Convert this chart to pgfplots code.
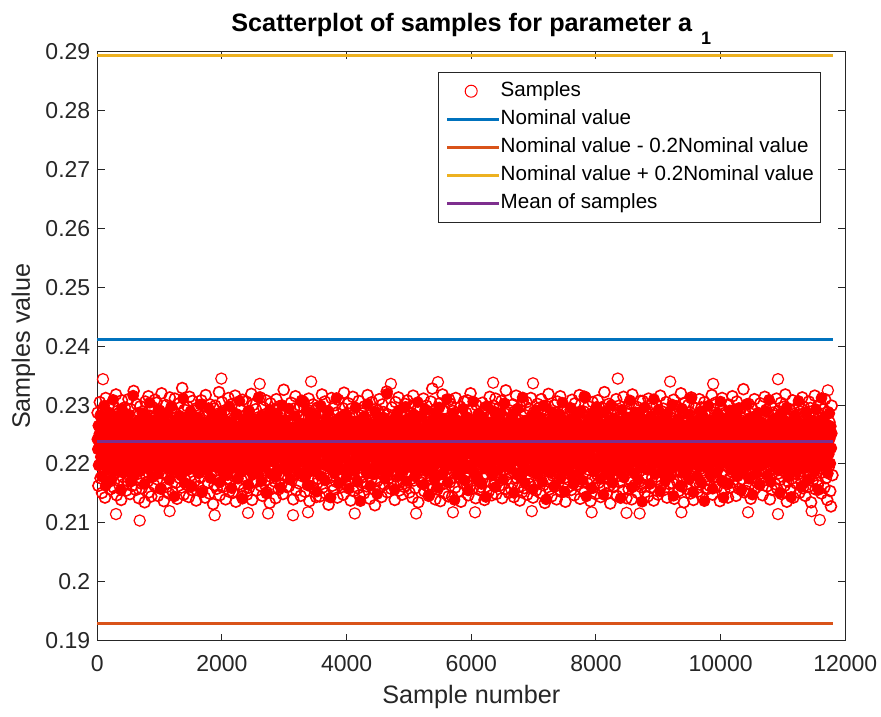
\documentclass[border=0pt]{standalone}
\usepackage{fontspec}
\setmainfont{Liberation Sans}
\usepackage{pgfplots}
\usepackage{pgfplotstable}
\pgfplotsset{compat=1.18}
\definecolor{mblue}{rgb}{0,0.447,0.741}
\definecolor{morange}{rgb}{0.85,0.325,0.098}
\definecolor{myellow}{rgb}{0.929,0.694,0.125}
\definecolor{mpurple}{rgb}{0.494,0.184,0.556}
\definecolor{axgray}{rgb}{0.15,0.15,0.15}
\pgfplotsset{mleg/.style={legend image code/.code={\draw[##1] (0pt,0pt) -- (26pt,0pt);}}}

\pgfplotstableread{
y
0.2242
0.2225
0.2265
0.2198
0.2251
0.2234
0.2283
0.2212
0.2246
0.2179
0.2270
0.2219
0.2258
0.2230
0.2299
0.2206
0.2239
0.2163
0.2276
0.2222
0.2229
0.2257
0.2191
0.2248
0.2215
0.2287
0.2236
0.2203
0.2268
0.2174
0.2241
0.2226
0.2309
0.2211
0.2253
0.2189
0.2272
0.2233
0.2253
0.2260
0.2247
0.2208
0.2236
0.2279
0.2193
0.2262
0.2221
0.2250
0.2156
0.2238
0.2294
0.2214
0.2244
0.2185
0.2267
0.2231
0.2201
0.2256
0.2224
0.2277
0.2218
0.2263
0.2232
0.2196
0.2284
0.2240
0.2209
0.2252
0.2170
0.2228
0.2269
0.2245
0.2199
0.2316
0.2235
0.2181
0.2259
0.2213
0.2248
0.2223
0.2254
0.2227
0.2195
0.2273
0.2237
0.2210
0.2264
0.2243
0.2188
0.2206
0.2258
0.2220
0.2286
0.2233
0.2204
0.2249
0.2166
0.2271
0.2228
0.2241
0.2235
0.2280
0.2216
0.2249
0.2192
0.2261
0.2226
0.2304
0.2243
0.2207
0.2257
0.2177
0.2238
0.2268
0.2221
0.2250
0.2199
0.2275
0.2231
0.2212
0.2266
0.2224
0.2247
0.2183
0.2256
0.2234
0.2208
0.2291
0.2240
0.2158
0.2219
0.2262
0.2229
0.2252
0.2196
0.2278
0.2237
0.2214
0.2245
0.2270
0.2223
0.2255
0.2201
0.2240
0.2287
0.2217
0.2246
0.2173
0.2264
0.2232
0.2210
0.2298
0.2239
0.2190
0.2260
0.2227
0.2251
0.2145
0.2236
0.2274
0.2244
0.2206
0.2269
0.2230
0.2195
0.2258
0.2222
0.2282
0.2241
0.2213
0.2250
0.2180
0.2235
0.2267
0.2203
0.2311
0.2228
0.2254
0.2168
0.2246
0.2259
0.2219
0.2237
0.2276
0.2200
0.2248
0.2226
0.2191
0.2265
0.2233
0.2289
0.2211
0.2243
0.2162
0.2255
0.2229
0.2272
0.2205
0.2240
0.2218
0.2231
0.2262
0.2197
0.2250
0.2214
0.2279
0.2238
0.2184
0.2257
0.2224
0.2301
0.2207
0.2245
0.2233
0.2152
0.2268
0.2220
0.2253
0.2194
0.2241
0.2249
0.2212
0.2271
0.2236
0.2189
0.2260
0.2227
0.2295
0.2242
0.2203
0.2255
0.2176
0.2234
0.2266
0.2219
0.2247
0.2198
0.2283
0.2230
0.2213
0.2263
0.2225
0.2241
0.2239
0.2194
0.2252
0.2216
0.2277
0.2244
0.2208
0.2169
0.2258
0.2232
0.2287
0.2221
0.2248
0.2186
0.2269
0.2237
0.2211
0.2228
0.2256
0.2202
0.2273
0.2240
0.2215
0.2181
0.2264
0.2235
0.2298
0.2223
0.2250
0.2193
0.2243
0.2159
0.2270
0.2231
0.2206
0.2257
0.2246
0.2252
0.2217
0.2240
0.2285
0.2199
0.2261
0.2229
0.2175
0.2254
0.2236
0.2307
0.2210
0.2248
0.2188
0.2266
0.2224
0.2141
0.2259
0.2234
0.2272
0.2238
0.2267
0.2209
0.2245
0.2192
0.2278
0.2222
0.2253
0.2165
0.2233
0.2290
0.2215
0.2241
0.2261
0.2200
0.2230
0.2256
0.2182
0.2249
0.2226
0.2219
0.2244
0.2274
0.2204
0.2258
0.2235
0.2186
0.2262
0.2227
0.2313
0.2242
0.2197
0.2251
0.2213
0.2268
0.2171
0.2239
0.2282
0.2223
0.2247
0.2257
0.2230
0.2195
0.2265
0.2241
0.2150
0.2254
0.2218
0.2279
0.2236
0.2207
0.2249
0.2292
0.2225
0.2183
0.2260
0.2233
0.2212
0.2271
0.2244
0.2234
0.2203
0.2263
0.2246
0.2178
0.2255
0.2228
0.2286
0.2240
0.2214
0.2252
0.2191
0.2270
0.2237
0.2160
0.2248
0.2221
0.2300
0.2231
0.2258
0.2266
0.2220
0.2243
0.2198
0.2275
0.2235
0.2209
0.2257
0.2187
0.2248
0.2229
0.2294
0.2216
0.2253
0.2174
0.2240
0.2262
0.2227
0.2201
0.2250
0.2245
0.2213
0.2259
0.2232
0.2281
0.2196
0.2242
0.2210
0.2264
0.2224
0.2250
0.2185
0.2270
0.2237
0.2206
0.2255
0.2230
0.2308
0.2218
0.2247
0.2230
0.2268
0.2205
0.2249
0.2177
0.2260
0.2239
0.2290
0.2221
0.2254
0.2193
0.2243
0.2164
0.2273
0.2226
0.2236
0.2201
0.2262
0.2246
0.2214
0.2254
0.2225
0.2189
0.2270
0.2238
0.2211
0.2283
0.2245
0.2153
0.2259
0.2231
0.2202
0.2265
0.2219
0.2248
0.2180
0.2299
0.2234
0.2256
0.2228
0.2241
0.2199
0.2263
0.2229
0.2252
0.2172
0.2236
0.2277
0.2215
0.2247
0.2208
0.2290
0.2233
0.2195
0.2258
0.2223
0.2143
0.2269
0.2240
0.2217
0.2262
0.2235
0.2206
0.2250
0.2184
0.2273
0.2227
0.2244
0.2312
0.2220
0.2256
0.2197
0.2239
0.2167
0.2264
0.2231
0.2211
0.2280
0.2248
0.2225
0.2216
0.2257
0.2240
0.2191
0.2268
0.2233
0.2285
0.2209
0.2251
0.2178
0.2243
0.2222
0.2262
0.2158
0.2236
0.2274
0.2203
0.2247
0.2229
0.2255
0.2248
0.2204
0.2266
0.2237
0.2188
0.2259
0.2221
0.2296
0.2242
0.2212
0.2253
0.2170
0.2271
0.2230
0.2199
0.2261
0.2226
0.2137
0.2245
0.2235
0.2233
0.2270
0.2214
0.2252
0.2196
0.2281
0.2239
0.2207
0.2259
0.2185
0.2246
0.2224
0.2302
0.2218
0.2256
0.2192
0.2241
0.2163
0.2267
0.2229
0.2258
0.2223
0.2247
0.2182
0.2265
0.2236
0.2210
0.2288
0.2243
0.2200
0.2255
0.2149
0.2232
0.2274
0.2217
0.2250
0.2190
0.2263
0.2238
0.2213
0.2227
0.2260
0.2197
0.2244
0.2279
0.2220
0.2253
0.2175
0.2238
0.2267
0.2208
0.2319
0.2231
0.2249
0.2186
0.2258
0.2225
0.2203
0.2271
0.2241
0.2251
0.2216
0.2269
0.2234
0.2198
0.2262
0.2229
0.2157
0.2247
0.2282
0.2212
0.2240
0.2194
0.2256
0.2222
0.2291
0.2237
0.2180
0.2264
0.2230
0.2239
0.2273
0.2208
0.2255
0.2226
0.2189
0.2266
0.2243
0.2214
0.2297
0.2233
0.2171
0.2250
0.2219
0.2261
0.2201
0.2245
0.2228
0.2278
0.2232
0.2264
0.2228
0.2195
0.2257
0.2236
0.2284
0.2211
0.2248
0.2179
0.2270
0.2241
0.2205
0.2259
0.2224
0.2305
0.2235
0.2192
0.2252
0.2217
0.2244
0.2222
0.2249
0.2280
0.2203
0.2261
0.2234
0.2165
0.2254
0.2227
0.2293
0.2240
0.2213
0.2187
0.2268
0.2230
0.2256
0.2199
0.2246
0.2147
0.2263
0.2247
0.2212
0.2258
0.2238
0.2190
0.2275
0.2225
0.2252
0.2174
0.2242
0.2287
0.2218
0.2265
0.2202
0.2235
0.2160
0.2260
0.2229
0.2296
0.2243
0.2236
0.2267
0.2206
0.2250
0.2183
0.2262
0.2231
0.2277
0.2215
0.2244
0.2196
0.2256
0.2223
0.2310
0.2239
0.2169
0.2254
0.2209
0.2271
0.2228
0.2259
0.2221
0.2245
0.2197
0.2268
0.2232
0.2286
0.2208
0.2251
0.2139
0.2240
0.2263
0.2216
0.2248
0.2182
0.2274
0.2236
0.2200
0.2257
0.2226
0.2230
0.2255
0.2188
0.2266
0.2243
0.2211
0.2294
0.2237
0.2202
0.2252
0.2172
0.2260
0.2224
0.2280
0.2246
0.2193
0.2233
0.2155
0.2269
0.2241
0.2253
0.2217
0.2270
0.2235
0.2199
0.2258
0.2228
0.2306
0.2245
0.2186
0.2262
0.2213
0.2239
0.2176
0.2273
0.2222
0.2250
0.2204
0.2284
0.2232
0.2242
0.2203
0.2261
0.2229
0.2166
0.2254
0.2238
0.2279
0.2210
0.2248
0.2193
0.2265
0.2220
0.2144
0.2257
0.2235
0.2298
0.2214
0.2246
0.2227
0.2260
0.2234
0.2198
0.2271
0.2226
0.2249
0.2181
0.2263
0.2240
0.2207
0.2289
0.2219
0.2252
0.2161
0.2236
0.2275
0.2211
0.2245
0.2190
0.2256
0.2228
0.2264
0.2215
0.2243
0.2287
0.2201
0.2255
0.2232
0.2174
0.2259
0.2222
0.2303
0.2238
0.2196
0.2268
0.2209
0.2247
0.2234
0.2231
0.2261
0.2250
0.2213
0.2272
0.2237
0.2192
0.2257
0.2225
0.2283
0.2244
0.2205
0.2151
0.2262
0.2230
0.2267
0.2218
0.2253
0.2184
0.2240
0.2294
0.2221
0.2235
0.2269
0.2204
0.2248
0.2178
0.2260
0.2227
0.2246
0.2313
0.2214
0.2256
0.2195
0.2241
0.2168
0.2274
0.2232
0.2208
0.2265
0.2223
0.2251
0.2262
0.2219
0.2244
0.2188
0.2270
0.2236
0.2281
0.2210
0.2253
0.2157
0.2239
0.2266
0.2200
0.2249
0.2228
0.2291
0.2216
0.2183
0.2258
0.2234
0.2226
0.2257
0.2196
0.2263
0.2240
0.2207
0.2277
0.2231
0.2170
0.2252
0.2218
0.2299
0.2245
0.2191
0.2261
0.2224
0.2140
0.2268
0.2237
0.2212
0.2254
0.2230
0.2271
0.2202
0.2247
0.2185
0.2264
0.2221
0.2288
0.2238
0.2209
0.2256
0.2162
0.2242
0.2276
0.2215
0.2250
0.2194
0.2233
0.2267
0.2239
0.2206
0.2260
0.2227
0.2284
0.2246
0.2177
0.2255
0.2219
0.2304
0.2235
0.2197
0.2262
0.2231
0.2153
0.2270
0.2212
0.2249
0.2189
0.2258
0.2263
0.2222
0.2248
0.2193
0.2274
0.2236
0.2208
0.2295
0.2243
0.2180
0.2257
0.2225
0.2166
0.2266
0.2230
0.2251
0.2201
0.2281
0.2217
0.2245
0.2232
0.2269
0.2213
0.2255
0.2186
0.2261
0.2238
0.2290
0.2204
0.2247
0.2172
0.2264
0.2220
0.2242
0.2315
0.2228
0.2195
0.2253
0.2145
0.2236
0.2251
0.2216
0.2276
0.2234
0.2199
0.2259
0.2224
0.2282
0.2244
0.2159
0.2267
0.2211
0.2249
0.2187
0.2272
0.2230
0.2205
0.2256
0.2241
0.2297
0.2228
0.2262
0.2194
0.2246
0.2210
0.2285
0.2237
0.2175
0.2254
0.2223
0.2268
0.2203
0.2240
0.2148
0.2259
0.2233
0.2289
0.2217
0.2250
0.2191
0.2257
0.2235
0.2201
0.2270
0.2227
0.2248
0.2181
0.2263
0.2242
0.2300
0.2214
0.2253
0.2168
0.2238
0.2277
0.2220
0.2244
0.2245
0.2196
0.2260
0.2231
0.2265
0.2209
0.2250
0.2188
0.2273
0.2226
0.2255
0.2142
0.2239
0.2292
0.2218
0.2261
0.2200
0.2244
0.2177
0.2268
0.2234
0.2212
0.2253
0.2246
0.2219
0.2279
0.2237
0.2193
0.2258
0.2229
0.2308
0.2247
0.2205
0.2264
0.2160
0.2241
0.2271
0.2215
0.2252
0.2184
0.2236
0.2288
0.2224
0.2237
0.2260
0.2202
0.2249
0.2173
0.2266
0.2230
0.2283
0.2214
0.2256
0.2195
0.2243
0.2136
0.2270
0.2222
0.2251
0.2207
0.2296
0.2233
0.2258
0.2264
0.2223
0.2245
0.2190
0.2275
0.2238
0.2211
0.2259
0.2166
0.2248
0.2281
0.2217
0.2254
0.2199
0.2269
0.2228
0.2310
0.2240
0.2183
0.2252
0.2225
0.2257
0.2206
0.2267
0.2234
0.2292
0.2213
0.2246
0.2154
0.2261
0.2229
0.2198
0.2273
0.2241
0.2187
0.2255
0.2220
0.2278
0.2236
0.2171
0.2249
0.2215
0.2263
0.2232
0.2286
0.2203
0.2257
0.2240
0.2179
0.2268
0.2224
0.2250
0.2192
0.2301
0.2236
0.2210
0.2146
0.2259
0.2244
0.2227
0.2240
0.2270
0.2208
0.2253
0.2197
0.2262
0.2231
0.2277
0.2218
0.2246
0.2163
0.2265
0.2235
0.2294
0.2212
0.2251
0.2185
0.2243
0.2226
0.2258
0.2255
0.2228
0.2189
0.2266
0.2241
0.2204
0.2284
0.2234
0.2174
0.2259
0.2221
0.2248
0.2311
0.2237
0.2200
0.2263
0.2152
0.2250
0.2216
0.2272
0.2233
0.2261
0.2210
0.2247
0.2180
0.2274
0.2225
0.2256
0.2195
0.2242
0.2289
0.2219
0.2264
0.2168
0.2238
0.2252
0.2206
0.2280
0.2229
0.2137
0.2258
0.2222
0.2270
0.2236
0.2193
0.2253
0.2227
0.2299
0.2244
0.2207
0.2267
0.2182
0.2240
0.2261
0.2214
0.2249
0.2158
0.2275
0.2232
0.2246
0.2227
0.2264
0.2203
0.2250
0.2186
0.2269
0.2235
0.2285
0.2217
0.2255
0.2198
0.2241
0.2306
0.2230
0.2172
0.2260
0.2211
0.2248
0.2143
0.2238
0.2252
0.2218
0.2277
0.2239
0.2201
0.2262
0.2224
0.2249
0.2167
0.2268
0.2233
0.2291
0.2209
0.2256
0.2190
0.2243
0.2226
0.2273
0.2214
0.2257
0.2242
0.2205
0.2260
0.2231
0.2282
0.2246
0.2179
0.2254
0.2220
0.2295
0.2237
0.2196
0.2265
0.2212
0.2155
0.2251
0.2228
0.2271
0.2188
0.2247
0.2261
0.2234
0.2194
0.2266
0.2225
0.2253
0.2302
0.2240
0.2208
0.2258
0.2175
0.2245
0.2219
0.2279
0.2232
0.2199
0.2263
0.2148
0.2236
0.2250
0.2229
0.2255
0.2211
0.2272
0.2238
0.2185
0.2264
0.2243
0.2204
0.2287
0.2221
0.2249
0.2164
0.2259
0.2233
0.2197
0.2270
0.2215
0.2246
0.2230
0.2248
0.2216
0.2263
0.2235
0.2290
0.2202
0.2256
0.2227
0.2181
0.2267
0.2241
0.2309
0.2222
0.2253
0.2170
0.2238
0.2260
0.2208
0.2244
0.2276
0.2236
0.2269
0.2199
0.2251
0.2223
0.2278
0.2243
0.2241
0.2212
0.2257
0.2189
0.2264
0.2230
0.2151
0.2248
0.2285
0.2218
0.2254
0.2195
0.2240
0.2257
0.2226
0.2274
0.2239
0.2206
0.2262
0.2214
0.2296
0.2245
0.2178
0.2252
0.2231
0.2191
0.2268
0.2221
0.2250
0.2144
0.2271
0.2237
0.2209
0.2232
0.2261
0.2201
0.2247
0.2283
0.2219
0.2255
0.2186
0.2240
0.2272
0.2213
0.2307
0.2234
0.2197
0.2265
0.2228
0.2249
0.2162
0.2258
0.2224
0.2253
0.2215
0.2268
0.2236
0.2193
0.2260
0.2242
0.2288
0.2207
0.2250
0.2173
0.2266
0.2229
0.2246
0.2231
0.2274
0.2220
0.2256
0.2203
0.2239
0.2244
0.2273
0.2210
0.2258
0.2187
0.2265
0.2233
0.2293
0.2218
0.2251
0.2199
0.2241
0.2156
0.2270
0.2226
0.2262
0.2206
0.2248
0.2312
0.2235
0.2261
0.2222
0.2247
0.2196
0.2279
0.2238
0.2213
0.2255
0.2204
0.2267
0.2230
0.2184
0.2250
0.2217
0.2286
0.2243
0.2201
0.2264
0.2227
0.2252
}\samplesA

\pgfplotstableread{
y
0.2287
0.2163
0.2198
0.2305
0.2176
0.2279
0.2151
0.2231
0.2294
0.2189
0.2143
0.2312
0.2182
0.2274
0.2169
0.2299
0.2201
0.2157
0.2284
0.2252
0.2193
0.2301
0.2160
0.2276
0.2185
0.2318
0.2147
0.2290
0.2172
0.2244
0.2197
0.2283
0.2139
0.2308
0.2178
0.2271
0.2166
0.2296
0.2204
0.2155
0.2280
0.2171
0.2310
0.2188
0.2149
0.2293
0.2200
0.2163
0.2275
0.2324
0.2183
0.2218
0.2156
0.2302
0.2194
0.2286
0.2142
0.2177
0.2298
0.2167
0.2159
0.2289
0.2196
0.2272
0.2135
0.2306
0.2181
0.2261
0.2170
0.2315
0.2152
0.2282
0.2190
0.2145
0.2297
0.2205
0.2277
0.2164
0.2309
0.2186
0.2304
0.2174
0.2146
0.2291
0.2199
0.2268
0.2158
0.2320
0.2184
0.2278
0.2137
0.2226
0.2195
0.2300
0.2161
0.2287
0.2179
0.2150
0.2313
0.2192
0.2185
0.2295
0.2153
0.2273
0.2202
0.2311
0.2168
0.2284
0.2141
0.2256
0.2188
0.2303
0.2176
0.2280
0.2160
0.2329
0.2197
0.2148
0.2292
0.2173
0.2270
0.2165
0.2298
0.2191
0.2144
0.2314
0.2180
0.2286
0.2156
0.2307
0.2199
0.2213
0.2171
0.2276
0.2138
0.2295
0.2187
0.2162
0.2283
0.2203
0.2177
0.2308
0.2154
0.2281
0.2194
0.2266
0.2143
0.2317
0.2186
0.2290
0.2169
0.2237
0.2150
0.2301
0.2182
0.2274
0.2198
0.2132
0.2294
0.2164
0.2299
0.2189
0.2158
0.2285
0.2172
0.2322
0.2147
0.2279
0.2196
0.2305
0.2161
0.2248
0.2183
0.2291
0.2140
0.2270
0.2175
0.2204
0.2312
0.2153
0.2168
0.2288
0.2193
0.2302
0.2151
0.2275
0.2179
0.2316
0.2136
0.2284
0.2200
0.2222
0.2165
0.2297
0.2186
0.2273
0.2145
0.2309
0.2190
0.2157
0.2282
0.2174
0.2306
0.2148
0.2192
0.2289
0.2160
0.2271
0.2181
0.2319
0.2139
0.2300
0.2197
0.2258
0.2169
0.2293
0.2155
0.2185
0.2279
0.2202
0.2188
0.2313
0.2163
0.2277
0.2146
0.2296
0.2199
0.2284
0.2172
0.2308
0.2152
0.2235
0.2194
0.2270
0.2134
0.2303
0.2178
0.2287
0.2159
0.2191
0.2292
0.2170
0.2142
0.2310
0.2187
0.2274
0.2157
0.2298
0.2196
0.2283
0.2166
0.2215
0.2149
0.2326
0.2180
0.2289
0.2203
0.2161
0.2272
0.2176
0.2162
0.2285
0.2198
0.2304
0.2173
0.2269
0.2140
0.2294
0.2184
0.2315
0.2155
0.2250
0.2190
0.2280
0.2167
0.2299
0.2146
0.2195
0.2307
0.2179
0.2305
0.2183
0.2153
0.2278
0.2200
0.2292
0.2164
0.2311
0.2137
0.2286
0.2189
0.2229
0.2171
0.2301
0.2158
0.2274
0.2193
0.2144
0.2295
0.2168
0.2175
0.2297
0.2145
0.2283
0.2191
0.2318
0.2160
0.2271
0.2186
0.2306
0.2150
0.2243
0.2197
0.2289
0.2131
0.2280
0.2177
0.2202
0.2312
0.2163
0.2276
0.2156
0.2195
0.2300
0.2170
0.2287
0.2143
0.2309
0.2182
0.2273
0.2199
0.2220
0.2161
0.2295
0.2148
0.2321
0.2189
0.2166
0.2281
0.2197
0.2192
0.2303
0.2167
0.2279
0.2138
0.2294
0.2185
0.2314
0.2154
0.2285
0.2174
0.2255
0.2201
0.2272
0.2159
0.2307
0.2147
0.2180
0.2290
0.2169
0.2286
0.2178
0.2150
0.2298
0.2194
0.2276
0.2162
0.2317
0.2188
0.2282
0.2141
0.2233
0.2173
0.2305
0.2196
0.2270
0.2157
0.2130
0.2293
0.2184
0.2171
0.2291
0.2199
0.2310
0.2160
0.2278
0.2144
0.2301
0.2182
0.2288
0.2165
0.2217
0.2191
0.2323
0.2152
0.2284
0.2176
0.2203
0.2272
0.2158
0.2296
0.2187
0.2166
0.2283
0.2139
0.2305
0.2179
0.2271
0.2197
0.2313
0.2155
0.2246
0.2170
0.2290
0.2148
0.2279
0.2193
0.2161
0.2302
0.2186
0.2164
0.2308
0.2181
0.2274
0.2152
0.2297
0.2195
0.2286
0.2143
0.2316
0.2172
0.2226
0.2159
0.2281
0.2200
0.2293
0.2135
0.2189
0.2270
0.2177
0.2281
0.2168
0.2197
0.2311
0.2154
0.2287
0.2184
0.2299
0.2163
0.2275
0.2146
0.2239
0.2192
0.2306
0.2175
0.2328
0.2158
0.2198
0.2285
0.2140
0.2190
0.2294
0.2157
0.2280
0.2173
0.2303
0.2137
0.2272
0.2186
0.2318
0.2166
0.2212
0.2150
0.2289
0.2196
0.2277
0.2181
0.2145
0.2309
0.2169
0.2302
0.2176
0.2145
0.2290
0.2188
0.2273
0.2160
0.2312
0.2199
0.2284
0.2153
0.2253
0.2178
0.2297
0.2136
0.2282
0.2191
0.2167
0.2306
0.2182
0.2183
0.2287
0.2165
0.2308
0.2147
0.2276
0.2194
0.2320
0.2171
0.2291
0.2158
0.2228
0.2185
0.2274
0.2142
0.2300
0.2202
0.2174
0.2285
0.2156
0.2278
0.2161
0.2192
0.2304
0.2176
0.2288
0.2139
0.2296
0.2183
0.2271
0.2198
0.2241
0.2154
0.2314
0.2169
0.2281
0.2147
0.2187
0.2299
0.2164
0.2170
0.2311
0.2149
0.2282
0.2195
0.2294
0.2163
0.2273
0.2180
0.2307
0.2142
0.2219
0.2189
0.2286
0.2157
0.2325
0.2174
0.2200
0.2277
0.2151
0.2291
0.2186
0.2158
0.2279
0.2167
0.2301
0.2144
0.2289
0.2193
0.2316
0.2176
0.2249
0.2161
0.2275
0.2138
0.2297
0.2182
0.2152
0.2308
0.2195
0.2159
0.2283
0.2190
0.2305
0.2148
0.2272
0.2177
0.2293
0.2166
0.2312
0.2199
0.2231
0.2143
0.2288
0.2185
0.2270
0.2155
0.2194
0.2302
0.2172
0.2295
0.2179
0.2151
0.2310
0.2196
0.2277
0.2164
0.2285
0.2134
0.2299
0.2188
0.2214
0.2171
0.2319
0.2157
0.2282
0.2197
0.2145
0.2274
0.2180
0.2184
0.2300
0.2162
0.2287
0.2140
0.2306
0.2191
0.2271
0.2175
0.2315
0.2153
0.2245
0.2198
0.2279
0.2168
0.2296
0.2136
0.2186
0.2290
0.2160
0.2273
0.2173
0.2199
0.2292
0.2156
0.2309
0.2181
0.2280
0.2147
0.2303
0.2192
0.2224
0.2165
0.2286
0.2178
0.2317
0.2141
0.2194
0.2276
0.2169
0.2196
0.2289
0.2152
0.2313
0.2183
0.2274
0.2167
0.2298
0.2190
0.2284
0.2137
0.2236
0.2174
0.2305
0.2160
0.2270
0.2201
0.2149
0.2295
0.2182
0.2308
0.2168
0.2186
0.2281
0.2144
0.2296
0.2195
0.2275
0.2159
0.2322
0.2177
0.2251
0.2150
0.2289
0.2189
0.2302
0.2163
0.2133
0.2284
0.2198
0.2175
0.2294
0.2161
0.2271
0.2193
0.2310
0.2146
0.2287
0.2180
0.2299
0.2169
0.2216
0.2191
0.2277
0.2155
0.2314
0.2185
0.2202
0.2290
0.2142
0.2285
0.2190
0.2157
0.2303
0.2174
0.2279
0.2140
0.2318
0.2196
0.2273
0.2164
0.2240
0.2183
0.2297
0.2151
0.2286
0.2170
0.2188
0.2307
0.2161
0.2166
0.2307
0.2195
0.2283
0.2152
0.2292
0.2181
0.2270
0.2145
0.2311
0.2198
0.2227
0.2160
0.2301
0.2177
0.2280
0.2138
0.2193
0.2275
0.2173
0.2299
0.2171
0.2148
0.2287
0.2187
0.2316
0.2163
0.2276
0.2199
0.2294
0.2156
0.2257
0.2180
0.2305
0.2143
0.2272
0.2192
0.2166
0.2288
0.2184
0.2182
0.2278
0.2167
0.2309
0.2141
0.2284
0.2197
0.2298
0.2170
0.2275
0.2154
0.2232
0.2189
0.2320
0.2162
0.2291
0.2178
0.2135
0.2303
0.2194
0.2274
0.2158
0.2191
0.2300
0.2176
0.2288
0.2150
0.2313
0.2185
0.2281
0.2139
0.2221
0.2196
0.2295
0.2168
0.2273
0.2153
0.2200
0.2310
0.2165
0.2192
0.2296
0.2144
0.2279
0.2186
0.2305
0.2172
0.2290
0.2157
0.2271
0.2198
0.2247
0.2163
0.2283
0.2181
0.2317
0.2148
0.2176
0.2293
0.2188
0.2304
0.2179
0.2161
0.2285
0.2194
0.2276
0.2137
0.2299
0.2183
0.2312
0.2170
0.2230
0.2155
0.2287
0.2197
0.2274
0.2166
0.2143
0.2301
0.2175
0.2160
0.2289
0.2187
0.2315
0.2169
0.2282
0.2193
0.2272
0.2146
0.2306
0.2180
0.2218
0.2158
0.2294
0.2200
0.2278
0.2174
0.2190
0.2327
0.2152
0.2290
0.2185
0.2154
0.2273
0.2198
0.2302
0.2165
0.2286
0.2141
0.2297
0.2177
0.2244
0.2189
0.2310
0.2159
0.2281
0.2195
0.2168
0.2270
0.2183
0.2177
0.2303
0.2191
0.2284
0.2147
0.2276
0.2172
0.2314
0.2186
0.2292
0.2162
0.2225
0.2199
0.2279
0.2140
0.2300
0.2181
0.2156
0.2287
0.2196
0.2282
0.2166
0.2196
0.2311
0.2158
0.2290
0.2184
0.2271
0.2173
0.2304
0.2149
0.2238
0.2188
0.2297
0.2163
0.2318
0.2192
0.2136
0.2277
0.2170
0.2189
0.2293
0.2156
0.2280
0.2175
0.2308
0.2143
0.2285
0.2197
0.2274
0.2167
0.2253
0.2182
0.2301
0.2151
0.2289
0.2194
0.2170
0.2313
0.2159
0.2297
0.2178
0.2146
0.2286
0.2190
0.2272
0.2161
0.2306
0.2180
0.2295
0.2135
0.2220
0.2171
0.2281
0.2198
0.2316
0.2157
0.2185
0.2275
0.2164
0.2168
0.2284
0.2193
0.2302
0.2150
0.2279
0.2186
0.2293
0.2160
0.2310
0.2176
0.2242
0.2139
0.2288
0.2195
0.2271
0.2154
0.2128
0.2299
0.2181
}\samplesB

\begin{document}
\begin{tikzpicture}
\begin{axis}[
  name=ax,
  scale only axis,
  width=374pt, height=294.5pt,
  xmin=0, xmax=12000, ymin=0.19, ymax=0.29,
  xtick={0,2000,4000,6000,8000,10000,12000},
  ytick={0.19,0.20,0.21,0.22,0.23,0.24,0.25,0.26,0.27,0.28,0.29},
  scaled x ticks=false, scaled y ticks=false,
  /pgf/number format/assume math mode=true,
  xticklabel style={/pgf/number format/1000 sep={}, yshift=-4pt},
  yticklabel style={/pgf/number format/fixed, /pgf/number format/precision=2},
  tick label style={font=\fontsize{11.5}{13}\selectfont, text=axgray},
  tick align=inside, tick pos=both, major tick length=3.6pt,
  axis line style={axgray, line width=0.5pt},
  tick style={axgray, line width=0.5pt},
  clip=false, clip marker paths=true,
  xlabel={Sample number}, ylabel={Samples value},
  every axis x label/.style={at={([yshift=-28pt]axis description cs:0.5,0)}, anchor=center, font=\fontsize{12.6}{15}\selectfont, text=axgray},
  every axis y label/.style={at={([xshift=-37pt]axis description cs:0,0.5)}, rotate=90, anchor=center, font=\fontsize{12.6}{15}\selectfont, text=axgray},
  title={Scatterplot of samples for parameter a\hspace{4.5pt}\raisebox{-6.5pt}{\fontsize{9}{9}\selectfont 1}},
  title style={at={(axis description cs:0.5,1)}, anchor=base, yshift=4pt, font=\bfseries\fontsize{12.6}{15}\selectfont},
  legend cell align=left,
  legend style={at={(axis description cs:0.968,0.966)}, anchor=north east,
    draw=axgray, line width=0.5pt, fill=white,
    font=\fontsize{10.3}{12}\selectfont,
    inner xsep=3.5pt, inner ysep=2.5pt, row sep=0pt,
    nodes={inner xsep=0pt, inner ysep=0pt, text height=9.7pt, text depth=4.3pt},
    /tikz/every even column/.append style={column sep=3pt}},
]
\addplot[only marks, mark=*, red, line width=0.5pt, mark size=2.7pt, mark options={fill=red, draw=red},
  legend image code/.code={\path[draw=none,fill=none] (0pt,-3pt) rectangle (26pt,3pt); \draw[red, line width=0.5pt, fill=none] (12pt,0pt) circle (3pt);}]
  table[x expr=\coordindex*7.86+1, y index=0] {\samplesA};
\addlegendentry{Samples}
\addplot[only marks, mark=o, red, line width=0.8pt, mark size=2.75pt, forget plot]
  table[x expr=\coordindex*11.8+5, y index=0] {\samplesB};
\addplot[only marks, mark=o, red, line width=0.6pt, mark size=2.8pt, forget plot]
  coordinates {(91,0.2344) (1990,0.2345) (2605,0.2336) (3430,0.2340) (4710,0.2336) (5465,0.2339)
    (6350,0.2338) (6990,0.2337) (8350,0.2345) (9190,0.2340) (9880,0.2336) (10920,0.2344) (11720,0.2325)
    (300,0.2115) (680,0.2104) (1160,0.2120) (1883,0.2113) (2418,0.2117) (2740,0.2116) (3140,0.2113)
    (3380,0.2118) (4130,0.2116) (5115,0.2116) (5705,0.2118) (6060,0.2118) (6970,0.2120) (7930,0.2118)
    (8490,0.2117) (8700,0.2116) (9370,0.2118) (10440,0.2118) (10920,0.2115) (11460,0.2120) (11590,0.2105)};
\addplot[mblue, line width=1.5pt, mleg]
  coordinates {(1,0.2411) (11800,0.2411)};
\addlegendentry{Nominal value}
\addplot[morange, line width=1.5pt, mleg]
  coordinates {(1,0.1929) (11800,0.1929)};
\addlegendentry{Nominal value - 0.2Nominal value}
\addplot[myellow, line width=1.5pt, mleg]
  coordinates {(1,0.2893) (11800,0.2893)};
\addlegendentry{Nominal value + 0.2Nominal value}
\addplot[mpurple, line width=1.5pt, mleg]
  coordinates {(1,0.2238) (11800,0.2238)};
\addlegendentry{Mean of samples}
\end{axis}
\pgfresetboundingbox
\path[use as bounding box] ([xshift=-48.65pt,yshift=-37.65pt]ax.south west) rectangle ([xshift=17.85pt,yshift=25.85pt]ax.north east);
\end{tikzpicture}
\end{document}
